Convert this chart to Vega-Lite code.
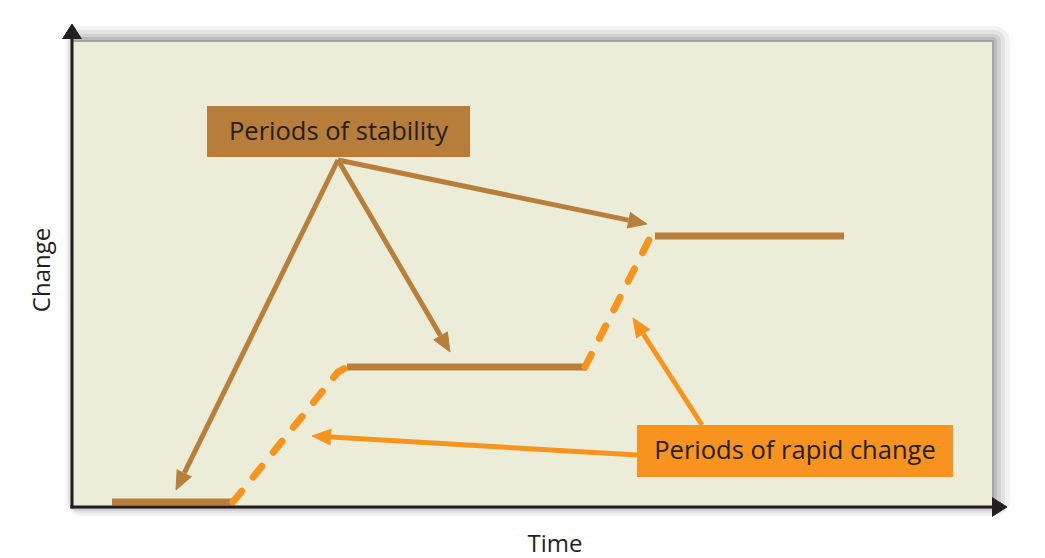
{
  "$schema": "https://vega.github.io/schema/vega-lite/v6.json",
  "width": 1045,
  "height": 558,
  "padding": 0,
  "autosize": {"type": "none"},
  "background": "#ffffff",
  "config": {"view": {"stroke": null}},
  "datasets": {
    "panel": [{"x0": 1, "x1": 920, "y0": 0, "y1": 465}],
    "steps": [
      {"seg": "s1", "phase": "stable", "x": 40, "y": 5, "i": 0},
      {"seg": "s1", "phase": "stable", "x": 161, "y": 5, "i": 1},
      {"seg": "r1", "phase": "rapid", "x": 161, "y": 5, "i": 0},
      {"seg": "r1", "phase": "rapid", "x": 266, "y": 135, "i": 1},
      {"seg": "r1", "phase": "rapid", "x": 275, "y": 140, "i": 2},
      {"seg": "s2", "phase": "stable", "x": 275, "y": 140, "i": 0},
      {"seg": "s2", "phase": "stable", "x": 515, "y": 140, "i": 1},
      {"seg": "r2", "phase": "rapid", "x": 513, "y": 140, "i": 0},
      {"seg": "r2", "phase": "rapid", "x": 578, "y": 269, "i": 1},
      {"seg": "r2", "phase": "rapid", "x": 583, "y": 271, "i": 2},
      {"seg": "s3", "phase": "stable", "x": 583, "y": 271, "i": 0},
      {"seg": "s3", "phase": "stable", "x": 772, "y": 271, "i": 1}
    ],
    "arrows": [
      {"arrow": "a", "kind": "stability", "x": 266, "y": 347, "i": 0},
      {"arrow": "a", "kind": "stability", "x": 112.4, "y": 34.1, "i": 1},
      {"arrow": "b", "kind": "stability", "x": 266, "y": 347, "i": 0},
      {"arrow": "b", "kind": "stability", "x": 368.4, "y": 171.4, "i": 1},
      {"arrow": "c", "kind": "stability", "x": 266, "y": 347, "i": 0},
      {"arrow": "c", "kind": "stability", "x": 556.4, "y": 286.9, "i": 1},
      {"arrow": "d", "kind": "rapid", "x": 565, "y": 52, "i": 0},
      {"arrow": "d", "kind": "rapid", "x": 259.0, "y": 69.9, "i": 1},
      {"arrow": "e", "kind": "rapid", "x": 630, "y": 82, "i": 0},
      {"arrow": "e", "kind": "rapid", "x": 571.3, "y": 173.0, "i": 1}
    ],
    "heads": [
      {"arrow": "a", "kind": "stability", "x": 119.6, "y": 30.6, "i": 0},
      {"arrow": "a", "kind": "stability", "x": 104, "y": 17, "i": 1},
      {"arrow": "a", "kind": "stability", "x": 105.2, "y": 37.6, "i": 2},
      {"arrow": "b", "kind": "stability", "x": 375.3, "y": 175.4, "i": 0},
      {"arrow": "b", "kind": "stability", "x": 378, "y": 155, "i": 1},
      {"arrow": "b", "kind": "stability", "x": 361.5, "y": 167.4, "i": 2},
      {"arrow": "c", "kind": "stability", "x": 558.0, "y": 294.7, "i": 0},
      {"arrow": "c", "kind": "stability", "x": 575, "y": 283, "i": 1},
      {"arrow": "c", "kind": "stability", "x": 554.8, "y": 279.0, "i": 2},
      {"arrow": "d", "kind": "rapid", "x": 258.5, "y": 61.9, "i": 0},
      {"arrow": "d", "kind": "rapid", "x": 240, "y": 71, "i": 1},
      {"arrow": "d", "kind": "rapid", "x": 259.5, "y": 77.9, "i": 2},
      {"arrow": "e", "kind": "rapid", "x": 564.6, "y": 168.7, "i": 0},
      {"arrow": "e", "kind": "rapid", "x": 561, "y": 189, "i": 1},
      {"arrow": "e", "kind": "rapid", "x": 578.0, "y": 177.3, "i": 2}
    ],
    "boxes": [
      {"label": "Periods of stability", "kind": "stability", "x0": 135, "x1": 398, "y0": 350, "y1": 401, "xc": 266.5, "yc": 375.5},
      {"label": "Periods of rapid change", "kind": "rapid", "x0": 565, "x1": 881, "y0": 30, "y1": 82, "xc": 723, "yc": 56}
    ],
    "axes": [
      {"axis": "y", "x": 0, "y": 0, "i": 0},
      {"axis": "y", "x": 0, "y": 469, "i": 1},
      {"axis": "x", "x": 0, "y": 0, "i": 0},
      {"axis": "x", "x": 921, "y": 0, "i": 1}
    ],
    "axisHeads": [
      {"axis": "y", "x": -9.5, "y": 468, "i": 0},
      {"axis": "y", "x": 0, "y": 483, "i": 1},
      {"axis": "y", "x": 9.5, "y": 468, "i": 2},
      {"axis": "x", "x": 920, "y": 9.5, "i": 0},
      {"axis": "x", "x": 935, "y": 0, "i": 1},
      {"axis": "x", "x": 920, "y": -9.5, "i": 2}
    ],
    "titles": [
      {"title": "Change", "x": -29, "y": 237, "rot": 270},
      {"title": "Time", "x": 483, "y": -38, "rot": 0}
    ]
  },
  "layer": [
    {
      "data": {"name": "panel"},
      "mark": {"type": "rect", "color": "#000000", "opacity": 0.05, "xOffset": -7, "x2Offset": 18, "yOffset": 9, "y2Offset": -16, "cornerRadius": 16},
      "encoding": {
        "x": {"field": "x0", "type": "quantitative", "scale": {"domain": [-72, 973], "nice": false, "zero": false}, "axis": null},
        "x2": {"field": "x1"},
        "y": {"field": "y0", "type": "quantitative", "scale": {"domain": [-51, 507], "nice": false, "zero": false}, "axis": null},
        "y2": {"field": "y1"}
      }
    },
    {
      "data": {"name": "panel"},
      "mark": {"type": "rect", "color": "#000000", "opacity": 0.06, "xOffset": -5, "x2Offset": 13, "yOffset": 6, "y2Offset": -12, "cornerRadius": 12},
      "encoding": {
        "x": {"field": "x0", "type": "quantitative", "scale": {"domain": [-72, 973], "nice": false, "zero": false}, "axis": null},
        "x2": {"field": "x1"},
        "y": {"field": "y0", "type": "quantitative", "scale": {"domain": [-51, 507], "nice": false, "zero": false}, "axis": null},
        "y2": {"field": "y1"}
      }
    },
    {
      "data": {"name": "panel"},
      "mark": {"type": "rect", "color": "#000000", "opacity": 0.08, "xOffset": -3, "x2Offset": 9, "yOffset": 4, "y2Offset": -8, "cornerRadius": 8},
      "encoding": {
        "x": {"field": "x0", "type": "quantitative", "scale": {"domain": [-72, 973], "nice": false, "zero": false}, "axis": null},
        "x2": {"field": "x1"},
        "y": {"field": "y0", "type": "quantitative", "scale": {"domain": [-51, 507], "nice": false, "zero": false}, "axis": null},
        "y2": {"field": "y1"}
      }
    },
    {
      "data": {"name": "panel"},
      "mark": {"type": "rect", "color": "#000000", "opacity": 0.1, "xOffset": -1, "x2Offset": 5, "yOffset": 2, "y2Offset": -5, "cornerRadius": 4},
      "encoding": {
        "x": {"field": "x0", "type": "quantitative", "scale": {"domain": [-72, 973], "nice": false, "zero": false}, "axis": null},
        "x2": {"field": "x1"},
        "y": {"field": "y0", "type": "quantitative", "scale": {"domain": [-51, 507], "nice": false, "zero": false}, "axis": null},
        "y2": {"field": "y1"}
      }
    },
    {
      "data": {"name": "panel"},
      "mark": {"type": "rect", "color": "#000000", "opacity": 0.12, "xOffset": 0, "x2Offset": 2, "yOffset": 0, "y2Offset": -2},
      "encoding": {
        "x": {"field": "x0", "type": "quantitative", "scale": {"domain": [-72, 973], "nice": false, "zero": false}, "axis": null},
        "x2": {"field": "x1"},
        "y": {"field": "y0", "type": "quantitative", "scale": {"domain": [-51, 507], "nice": false, "zero": false}, "axis": null},
        "y2": {"field": "y1"}
      }
    },
    {
      "data": {"name": "panel"},
      "mark": {"type": "rect", "color": "#EBEDD8"},
      "encoding": {
        "x": {"field": "x0", "type": "quantitative", "scale": {"domain": [-72, 973], "nice": false, "zero": false}, "axis": null},
        "x2": {"field": "x1"},
        "y": {"field": "y0", "type": "quantitative", "scale": {"domain": [-51, 507], "nice": false, "zero": false}, "axis": null},
        "y2": {"field": "y1"}
      }
    },
    {
      "data": {"name": "steps"},
      "transform": [{"filter": "datum.phase === 'stable'"}],
      "mark": {"type": "line", "color": "#B97F3A", "strokeWidth": 7, "strokeCap": "butt"},
      "encoding": {
        "x": {"field": "x", "type": "quantitative", "scale": {"domain": [-72, 973], "nice": false, "zero": false}, "axis": null},
        "y": {"field": "y", "type": "quantitative", "scale": {"domain": [-51, 507], "nice": false, "zero": false}, "axis": null},
        "detail": {"field": "seg"},
        "order": {"field": "i"}
      }
    },
    {
      "data": {"name": "steps"},
      "transform": [{"filter": "datum.phase === 'rapid'"}],
      "mark": {"type": "line", "color": "#F7941E", "strokeWidth": 7, "strokeCap": "round", "strokeJoin": "round", "strokeDash": [14, 18]},
      "encoding": {
        "x": {"field": "x", "type": "quantitative", "scale": {"domain": [-72, 973], "nice": false, "zero": false}, "axis": null},
        "y": {"field": "y", "type": "quantitative", "scale": {"domain": [-51, 507], "nice": false, "zero": false}, "axis": null},
        "detail": {"field": "seg"},
        "order": {"field": "i"}
      }
    },
    {
      "data": {"name": "arrows"},
      "transform": [{"filter": "datum.kind === 'stability'"}],
      "mark": {"type": "line", "color": "#B97F3A", "strokeWidth": 5, "strokeCap": "butt"},
      "encoding": {
        "x": {"field": "x", "type": "quantitative", "scale": {"domain": [-72, 973], "nice": false, "zero": false}, "axis": null},
        "y": {"field": "y", "type": "quantitative", "scale": {"domain": [-51, 507], "nice": false, "zero": false}, "axis": null},
        "detail": {"field": "arrow"},
        "order": {"field": "i"}
      }
    },
    {
      "data": {"name": "heads"},
      "transform": [{"filter": "datum.kind === 'stability'"}],
      "mark": {"type": "line", "stroke": "#B97F3A", "fill": "#B97F3A", "strokeWidth": 1, "strokeJoin": "miter"},
      "encoding": {
        "x": {"field": "x", "type": "quantitative", "scale": {"domain": [-72, 973], "nice": false, "zero": false}, "axis": null},
        "y": {"field": "y", "type": "quantitative", "scale": {"domain": [-51, 507], "nice": false, "zero": false}, "axis": null},
        "detail": {"field": "arrow"},
        "order": {"field": "i"}
      }
    },
    {
      "data": {"name": "arrows"},
      "transform": [{"filter": "datum.kind === 'rapid'"}],
      "mark": {"type": "line", "color": "#F7941E", "strokeWidth": 5, "strokeCap": "butt"},
      "encoding": {
        "x": {"field": "x", "type": "quantitative", "scale": {"domain": [-72, 973], "nice": false, "zero": false}, "axis": null},
        "y": {"field": "y", "type": "quantitative", "scale": {"domain": [-51, 507], "nice": false, "zero": false}, "axis": null},
        "detail": {"field": "arrow"},
        "order": {"field": "i"}
      }
    },
    {
      "data": {"name": "heads"},
      "transform": [{"filter": "datum.kind === 'rapid'"}],
      "mark": {"type": "line", "stroke": "#F7941E", "fill": "#F7941E", "strokeWidth": 1, "strokeJoin": "miter"},
      "encoding": {
        "x": {"field": "x", "type": "quantitative", "scale": {"domain": [-72, 973], "nice": false, "zero": false}, "axis": null},
        "y": {"field": "y", "type": "quantitative", "scale": {"domain": [-51, 507], "nice": false, "zero": false}, "axis": null},
        "detail": {"field": "arrow"},
        "order": {"field": "i"}
      }
    },
    {
      "data": {"name": "boxes"},
      "mark": {"type": "rect"},
      "encoding": {
        "x": {"field": "x0", "type": "quantitative", "scale": {"domain": [-72, 973], "nice": false, "zero": false}, "axis": null},
        "x2": {"field": "x1"},
        "y": {"field": "y0", "type": "quantitative", "scale": {"domain": [-51, 507], "nice": false, "zero": false}, "axis": null},
        "y2": {"field": "y1"},
        "color": {"field": "kind", "type": "nominal", "scale": {"domain": ["stability", "rapid"], "range": ["#B67D3B", "#F7931E"]}, "legend": null}
      }
    },
    {
      "data": {"name": "boxes"},
      "mark": {"type": "text", "font": "Open Sans", "fontSize": 25.5, "color": "#231F20", "align": "center", "baseline": "middle"},
      "encoding": {
        "x": {"field": "xc", "type": "quantitative", "scale": {"domain": [-72, 973], "nice": false, "zero": false}, "axis": null},
        "y": {"field": "yc", "type": "quantitative", "scale": {"domain": [-51, 507], "nice": false, "zero": false}, "axis": null},
        "text": {"field": "label"}
      }
    },
    {
      "data": {"name": "axes"},
      "mark": {"type": "line", "color": "#231F20", "strokeWidth": 3, "strokeCap": "square"},
      "encoding": {
        "x": {"field": "x", "type": "quantitative", "scale": {"domain": [-72, 973], "nice": false, "zero": false}, "axis": null},
        "y": {"field": "y", "type": "quantitative", "scale": {"domain": [-51, 507], "nice": false, "zero": false}, "axis": null},
        "detail": {"field": "axis"},
        "order": {"field": "i"}
      }
    },
    {
      "data": {"name": "axisHeads"},
      "mark": {"type": "line", "stroke": "#231F20", "fill": "#231F20", "strokeWidth": 1},
      "encoding": {
        "x": {"field": "x", "type": "quantitative", "scale": {"domain": [-72, 973], "nice": false, "zero": false}, "axis": null},
        "y": {"field": "y", "type": "quantitative", "scale": {"domain": [-51, 507], "nice": false, "zero": false}, "axis": null},
        "detail": {"field": "axis"},
        "order": {"field": "i"}
      }
    },
    {
      "data": {"name": "titles"},
      "transform": [{"filter": "datum.rot === 0"}],
      "mark": {"type": "text", "font": "Open Sans", "fontSize": 24, "color": "#231F20", "align": "center", "baseline": "middle"},
      "encoding": {
        "x": {"field": "x", "type": "quantitative", "scale": {"domain": [-72, 973], "nice": false, "zero": false}, "axis": null},
        "y": {"field": "y", "type": "quantitative", "scale": {"domain": [-51, 507], "nice": false, "zero": false}, "axis": null},
        "text": {"field": "title"}
      }
    },
    {
      "data": {"name": "titles"},
      "transform": [{"filter": "datum.rot === 270"}],
      "mark": {"type": "text", "font": "Open Sans", "fontSize": 24, "color": "#231F20", "align": "center", "baseline": "middle", "angle": 270},
      "encoding": {
        "x": {"field": "x", "type": "quantitative", "scale": {"domain": [-72, 973], "nice": false, "zero": false}, "axis": null},
        "y": {"field": "y", "type": "quantitative", "scale": {"domain": [-51, 507], "nice": false, "zero": false}, "axis": null},
        "text": {"field": "title"}
      }
    }
  ]
}
